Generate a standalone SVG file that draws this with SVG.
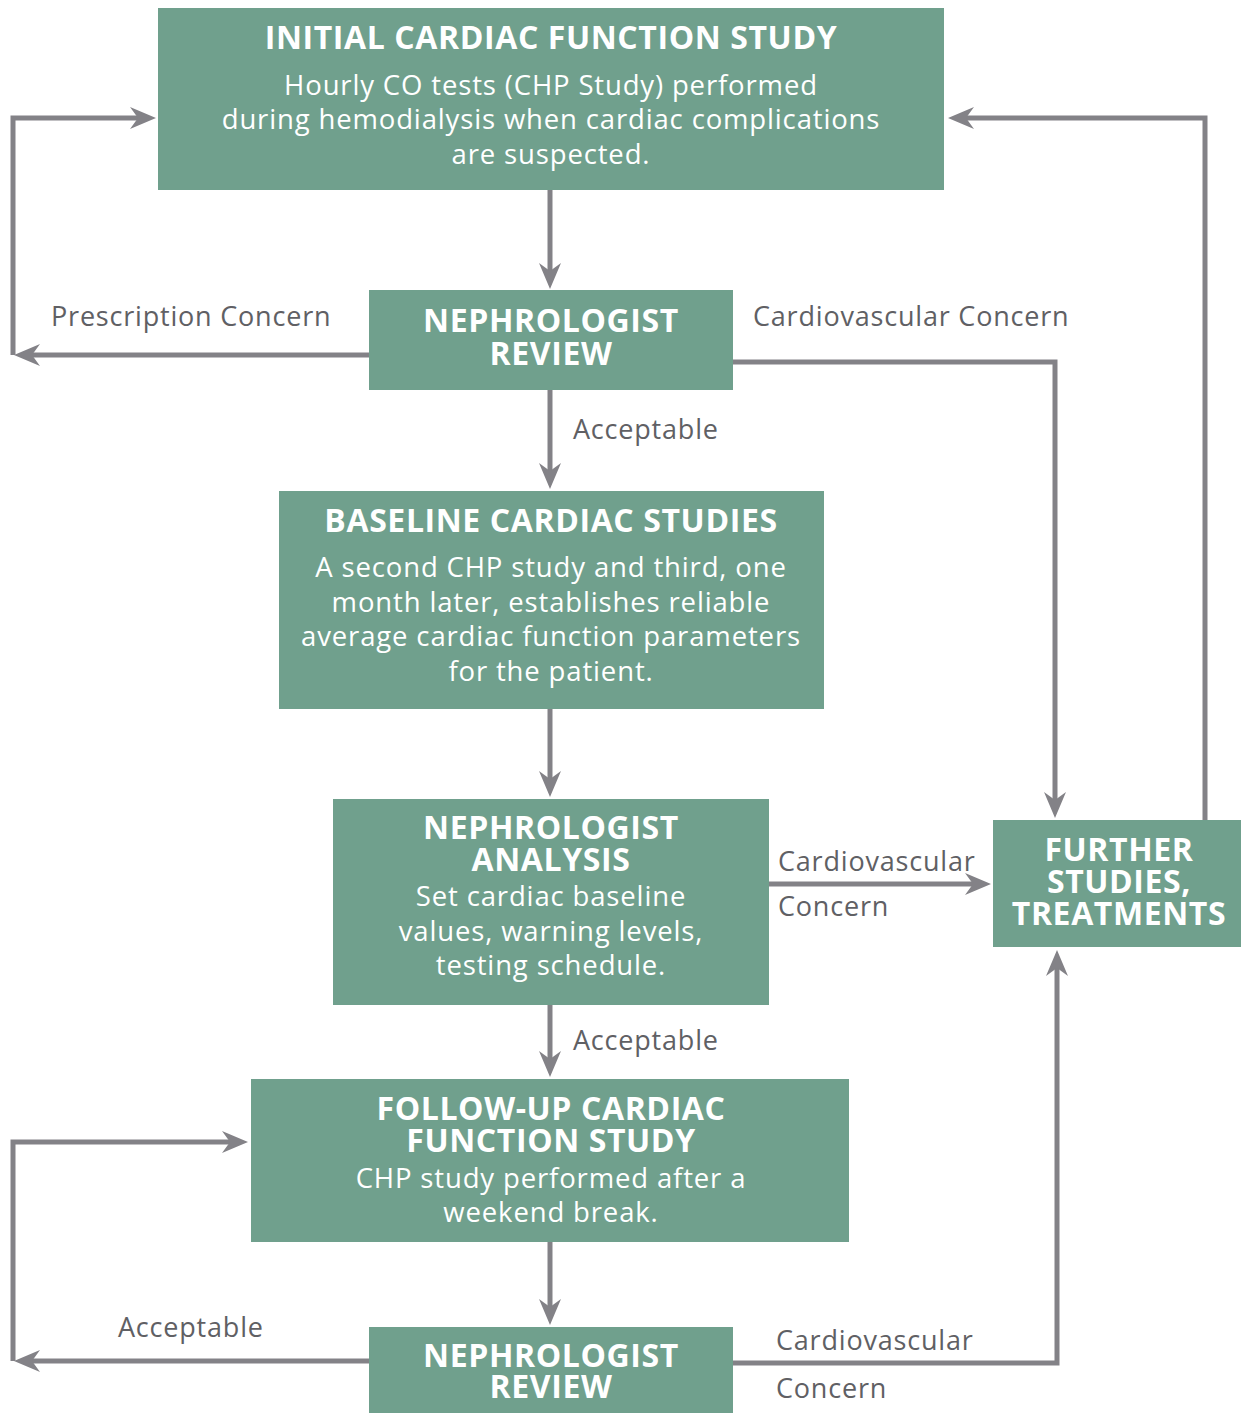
<svg xmlns="http://www.w3.org/2000/svg" width="1241" height="1414" viewBox="0 0 1241 1414">
<defs>
<style>
.box{fill:#70a08d}
.t{font-family:"Open Sans","Noto Sans",sans-serif;fill:#ffffff;text-anchor:middle}
.h{font-weight:bold;font-size:32px;letter-spacing:0.6px}
.b{font-size:27.5px;letter-spacing:0.85px}
.lbl{font-family:"Open Sans","Noto Sans",sans-serif;fill:#606064;font-size:27px;letter-spacing:0.8px}
.c{fill:none;stroke:#838287;stroke-width:5}
</style>
<marker id="ah" viewBox="0 0 26 22" markerWidth="26" markerHeight="22" refX="16" refY="11" orient="auto" markerUnits="userSpaceOnUse">
<path d="M0,0 L26,11 L0,22 L8,11 Z" fill="#838287"/>
</marker>
</defs>
<rect width="1241" height="1414" fill="#ffffff"/>

<g id="connectors">
<path class="c" d="M550,190 V279" marker-end="url(#ah)"/>
<path class="c" d="M369,355 H24" marker-end="url(#ah)"/>
<path class="c" d="M13,355 V118 H146" marker-end="url(#ah)"/>
<path class="c" d="M733,362 H1055 V808" marker-end="url(#ah)"/>
<path class="c" d="M550,390 V479" marker-end="url(#ah)"/>
<path class="c" d="M550,709 V787" marker-end="url(#ah)"/>
<path class="c" d="M769,884 H981" marker-end="url(#ah)"/>
<path class="c" d="M1205,820 V118 H958" marker-end="url(#ah)"/>
<path class="c" d="M550,1005 V1067" marker-end="url(#ah)"/>
<path class="c" d="M550,1242 V1315" marker-end="url(#ah)"/>
<path class="c" d="M369,1361 H24" marker-end="url(#ah)"/>
<path class="c" d="M13,1361 V1142 H238" marker-end="url(#ah)"/>
<path class="c" d="M733,1363 H1057 V960" marker-end="url(#ah)"/>
<text class="lbl" x="51" y="326">Prescription Concern</text>
<text class="lbl" x="753" y="326">Cardiovascular Concern</text>
<text class="lbl" x="573" y="439">Acceptable</text>
<text class="lbl" x="778" y="871">Cardiovascular</text>
<text class="lbl" x="778" y="916">Concern</text>
<text class="lbl" x="573" y="1050">Acceptable</text>
<text class="lbl" x="118" y="1337">Acceptable</text>
<text class="lbl" x="776" y="1350">Cardiovascular</text>
<text class="lbl" x="776" y="1398">Concern</text>
</g>

<g id="initial-study">
<rect class="box" x="158" y="8" width="786" height="182"/>
<text class="t h" x="551" y="49">INITIAL CARDIAC FUNCTION STUDY</text>
<text class="t b" x="551" y="95">Hourly CO tests (CHP Study) performed</text>
<text class="t b" x="551" y="129">during hemodialysis when cardiac complications</text>
<text class="t b" x="551" y="164">are suspected.</text>
</g>

<g id="nephrologist-review-1">
<rect class="box" x="369" y="290" width="364" height="100"/>
<text class="t h" x="551" y="332">NEPHROLOGIST<tspan x="551" dy="33">REVIEW</tspan></text>
</g>

<g id="baseline-studies">
<rect class="box" x="279" y="491" width="545" height="218"/>
<text class="t h" x="551" y="532">BASELINE CARDIAC STUDIES</text>
<text class="t b" x="551" y="577">A second CHP study and third, one</text>
<text class="t b" x="551" y="612">month later, establishes reliable</text>
<text class="t b" x="551" y="646">average cardiac function parameters</text>
<text class="t b" x="551" y="681">for the patient.</text>
</g>

<g id="nephrologist-analysis">
<rect class="box" x="333" y="799" width="436" height="206"/>
<text class="t h" x="551" y="839">NEPHROLOGIST<tspan x="551" dy="32">ANALYSIS</tspan></text>
<text class="t b" x="551" y="906">Set cardiac baseline</text>
<text class="t b" x="551" y="941">values, warning levels,</text>
<text class="t b" x="551" y="975">testing schedule.</text>
</g>

<g id="further-studies">
<rect class="box" x="993" y="820" width="248" height="127"/>
<text class="t h" x="1119" y="861">FURTHER<tspan x="1119" dy="32">STUDIES,</tspan><tspan x="1119" dy="32">TREATMENTS</tspan></text>
</g>

<g id="follow-up-study">
<rect class="box" x="251" y="1079" width="598" height="163"/>
<text class="t h" x="551" y="1120">FOLLOW-UP CARDIAC<tspan x="551" dy="32">FUNCTION STUDY</tspan></text>
<text class="t b" x="551" y="1188">CHP study performed after a</text>
<text class="t b" x="551" y="1222">weekend break.</text>
</g>

<g id="nephrologist-review-2">
<rect class="box" x="369" y="1327" width="364" height="86"/>
<text class="t h" x="551" y="1367">NEPHROLOGIST<tspan x="551" dy="31">REVIEW</tspan></text>
</g>
</svg>
